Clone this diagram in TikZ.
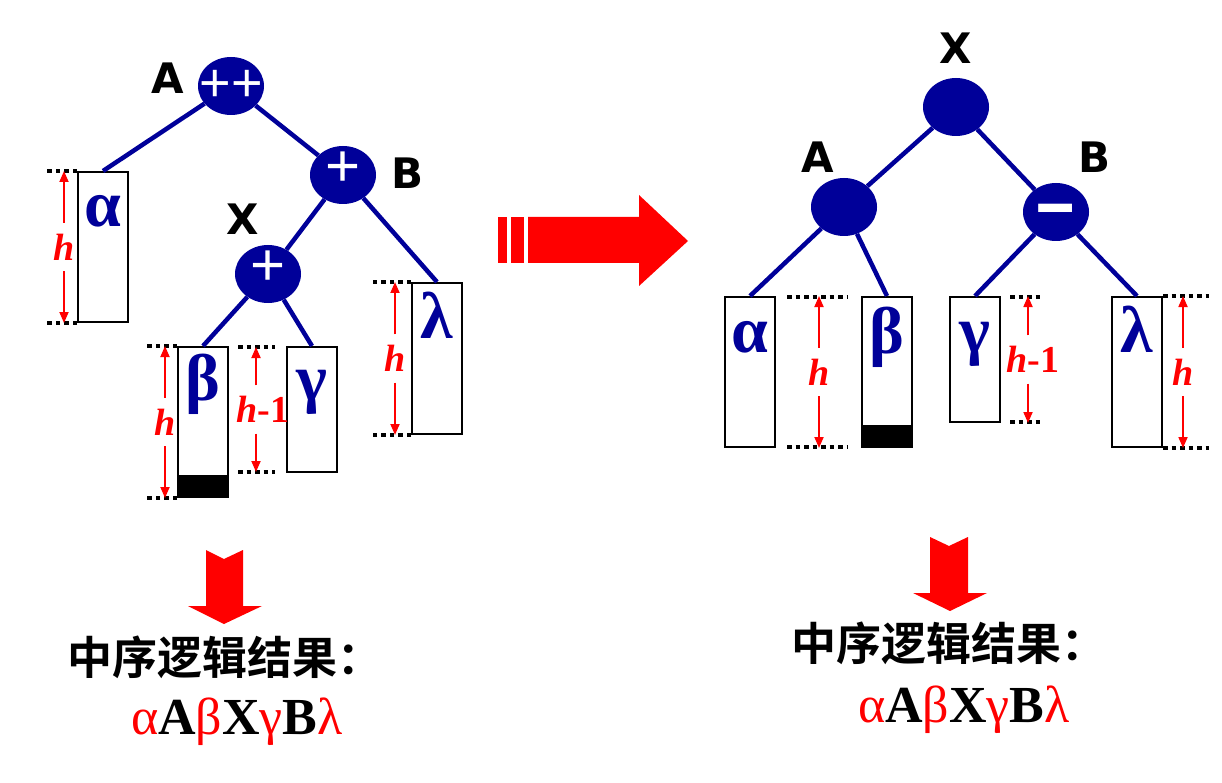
\documentclass[tikz,border=0pt]{standalone}
\usepackage{fontspec}
\usepackage{graphicx}
\setmainfont{Liberation Serif}
\newfontfamily\labfont{Liberation Sans}
\newfontfamily\heavyfont{DejaVu Sans}
\newfontfamily\cjk{Noto Sans CJK SC Bold}
\usetikzlibrary{shapes.geometric,arrows.meta}
\definecolor{nodeblue}{RGB}{0,0,153}
\definecolor{arrred}{RGB}{255,0,0}
\begin{document}
\begin{tikzpicture}[x=1pt,y=-1pt,
 tnode/.style={ellipse, fill=nodeblue, minimum width=66pt, minimum height=58pt, inner sep=0pt, text=white, font=\labfont\fontsize{60}{60}\selectfont, text depth=0pt, text height=23pt, text width=0pt, align=center},
 edge/.style={draw=nodeblue, line width=4.5pt},
 subtree/.style={draw=black, line width=2pt, fill=white, minimum width=50pt, inner sep=0pt},
 greek/.style={text=nodeblue, font=\bfseries\fontsize{66}{66}\selectfont, anchor=base, inner sep=0pt},
 namelab/.style={font=\heavyfont\bfseries\fontsize{42}{42}\selectfont, inner sep=0pt},
 dotline/.style={draw=black, line width=4.5pt, dash pattern=on 4.5pt off 4pt},
 hlab/.style={text=arrred, font=\bfseries\fontsize{38}{38}\selectfont, minimum height=48pt, inner sep=0pt},
 harrow/.style={draw=arrred, line width=1.8pt, -{Triangle[width=9pt,length=11pt]}},
 bigarrow/.style={fill=arrred, draw=none},
 cjktext/.style={font=\cjk\fontsize{45}{45}\selectfont, inner sep=0pt},
 resulttext/.style={font=\bfseries\fontsize{52}{52}\selectfont, inner sep=0pt},
]
\useasboundingbox (0,0) rectangle (1222,783);

% ---------- left tree ----------
\node[tnode, font=\labfont\fontsize{54}{54}\selectfont, text height=32pt] (lA) at (231,86) {\makebox[0pt]{++}};
\node[tnode] (lB) at (343,175) {\makebox[0pt]{+}};
\node[tnode] (lX) at (268,274) {\makebox[0pt]{+}};

\node[subtree, minimum height=150pt] (la) at (103,247) {};
\node[subtree, minimum height=150pt] (lb) at (203,422) {};
\node[subtree, minimum height=125pt] (lg) at (312,409.5) {};
\node[subtree, minimum height=151pt] (ll) at (437,358.5) {};
\fill[black] (lb.south west) rectangle ([yshift=23pt]lb.south east);

\draw[edge] (lA) -- (la.north);
\draw[edge] (lA) -- (lB);
\draw[edge] (lB) -- (lX);
\draw[edge] (lB) -- (ll.north);
\draw[edge] (lX) -- (lb.north);
\draw[edge] (lX) -- (lg.north);

\node[greek] (ta) at (103,227) {α};
\node[greek] (tb) at (203,400) {β};
\node[greek] (tg) at (312,400) {γ};
\node[greek] (tl) at (437,338) {λ};

\node[namelab] (nA) at (168,78) {A};
\node[namelab] (nB) at (407,173) {B};
\node[namelab] (nX) at (243,219) {X};

\draw[dotline] (la.north west) -- ++(-31,0);
\draw[dotline] (la.south west) -- ++(-31,0);
\draw[dotline] (lb.north west) -- ++(-31,0);
\draw[dotline] (lb.south west) -- ++(-31,0);
\draw[dotline] (238,347) -- (275,347);
\draw[dotline] (238,472) -- (275,472);
\draw[dotline] (ll.north west) -- ++(-39,0);
\draw[dotline] (ll.south west) -- ++(-39,0);

\node[hlab] (h1) at (64,247) {\itshape h};
\draw[harrow] (h1.north) -- (h1 |- la.north);
\draw[harrow] (h1.south) -- (h1 |- la.south);
\node[hlab] (h2) at (165,422) {\itshape h};
\draw[harrow] (h2.north) -- (h2 |- lb.north);
\draw[harrow] (h2.south) -- (h2 |- lb.south);
\node[hlab] (h3) at (263,409.5) {{\itshape h}-1};
\coordinate (c3) at (256,409.5);
\draw[harrow] (c3 |- h3.north) -- (256,347);
\draw[harrow] (c3 |- h3.south) -- (256,472);
\node[hlab] (h4) at (395,358.5) {\itshape h};
\draw[harrow] (h4.north) -- (h4 |- ll.north);
\draw[harrow] (h4.south) -- (h4 |- ll.south);

% ---------- big arrow ----------
\fill[bigarrow] (498,217) rectangle (507,263);
\fill[bigarrow] (511,217) rectangle (524,263);
\fill[bigarrow] (528,217) -- (639,217) -- (639,195) -- (688,241) -- (639,286) -- (639,263) -- (528,263) -- cycle;

% ---------- right tree ----------
\node[tnode] (rX) at (956,107) {};
\node[tnode] (rA) at (844,207) {};
\node[tnode, font=\labfont\bfseries\fontsize{70}{70}\selectfont, text height=30pt] (rB) at (1056,212) {\makebox[0pt]{\scalebox{1.9}[1]{-}}};

\node[subtree, minimum height=150pt] (ra) at (750,372) {};
\node[subtree, minimum height=150pt] (rb) at (887,372) {};
\node[subtree, minimum height=125pt] (rg) at (975,359.5) {};
\node[subtree, minimum height=150pt] (rl) at (1137,372) {};
\fill[black] (rb.south west) rectangle ([yshift=23pt]rb.south east);

\draw[edge] (rX) -- (rA);
\draw[edge] (rX) -- (rB);
\draw[edge] (rA) -- (ra.north);
\draw[edge] (rA) -- (rb.north);
\draw[edge] (rB) -- (rg.north);
\draw[edge] (rB) -- (rl.north);

\node[greek] (ua) at (750,352) {α};
\node[greek] (ub) at (887,353) {β};
\node[greek] (ug) at (975,352) {γ};
\node[greek] (ul) at (1137,352) {λ};

\node[namelab] (mX) at (956,48) {X};
\node[namelab] (mA) at (818,157) {A};
\node[namelab] (mB) at (1094,157) {B};

\draw[dotline] (787,297) -- (848,297);
\draw[dotline] (787,447) -- (848,447);
\draw[dotline] (1010,297) -- (1042,297);
\draw[dotline] (1010,422) -- (1042,422);
\draw[dotline] (rl.north east) -- ++(46,0);
\draw[dotline] (rl.south east) -- ++(46,0);

\node[hlab] (h5) at (819,372) {\itshape h};
\draw[harrow] (h5.north) -- (h5 |- ra.north);
\draw[harrow] (h5.south) -- (h5 |- ra.south);
\node[hlab] (h6) at (1033,359.5) {{\itshape h}-1};
\coordinate (c6) at (1028,359.5);
\draw[harrow] (c6 |- h6.north) -- (c6 |- rg.north);
\draw[harrow] (c6 |- h6.south) -- (c6 |- rg.south);
\node[hlab] (h7) at (1183,372) {\itshape h};
\draw[harrow] (h7.north) -- (h7 |- rl.north);
\draw[harrow] (h7.south) -- (h7 |- rl.south);

% ---------- down arrows and results ----------
\fill[bigarrow] (206,550) -- (224,559) -- (243,550) -- (243,606) -- (262,606) -- (224,624) -- (188,606) -- (206,606) -- cycle;
\fill[bigarrow] (930,537) -- (949,546) -- (968,537) -- (968,593) -- (987,593) -- (950,611) -- (913,593) -- (930,593) -- cycle;

\node[cjktext] (lres) at (225,657) {中序逻辑结果：};
\node[resulttext] (lseq) at (237,722) {\textcolor{arrred}{\mdseries α}A\textcolor{arrred}{\mdseries β}X\textcolor{arrred}{\mdseries γ}B\textcolor{arrred}{\mdseries λ}};
\node[cjktext] (rres) at (949,643) {中序逻辑结果：};
\node[resulttext] (rseq) at (964,710) {\textcolor{arrred}{\mdseries α}A\textcolor{arrred}{\mdseries β}X\textcolor{arrred}{\mdseries γ}B\textcolor{arrred}{\mdseries λ}};
\end{tikzpicture}
\end{document}
